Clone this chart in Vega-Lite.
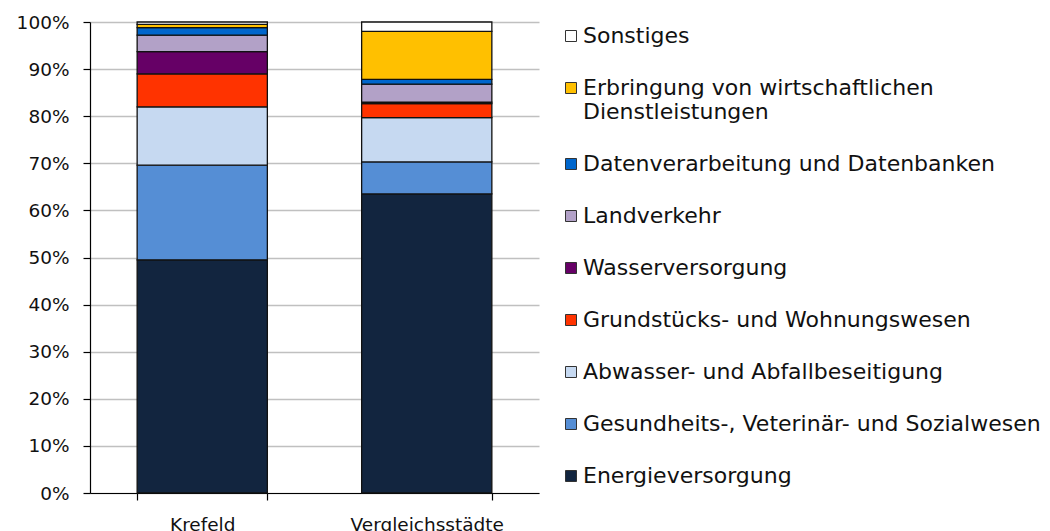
{
  "$schema": "https://vega.github.io/schema/vega-lite/v6.json",
  "autosize": {"type": "none"},
  "padding": {"left": 90, "top": 22, "right": 511, "bottom": 38},
  "width": 449,
  "height": 471,
  "background": "white",
  "data": {
    "values": [
      {"stadt": "Krefeld", "sektor": "Energieversorgung", "idx": 0, "anteil": 49.5},
      {"stadt": "Krefeld", "sektor": "Gesundheits-, Veterinär- und Sozialwesen", "idx": 1, "anteil": 20.1},
      {"stadt": "Krefeld", "sektor": "Abwasser- und Abfallbeseitigung", "idx": 2, "anteil": 12.4},
      {"stadt": "Krefeld", "sektor": "Grundstücks- und Wohnungswesen", "idx": 3, "anteil": 7.0},
      {"stadt": "Krefeld", "sektor": "Wasserversorgung", "idx": 4, "anteil": 4.7},
      {"stadt": "Krefeld", "sektor": "Landverkehr", "idx": 5, "anteil": 3.5},
      {"stadt": "Krefeld", "sektor": "Datenverarbeitung und Datenbanken", "idx": 6, "anteil": 1.6},
      {"stadt": "Krefeld", "sektor": "Erbringung von wirtschaftlichen Dienstleistungen", "idx": 7, "anteil": 0.7},
      {"stadt": "Krefeld", "sektor": "Sonstiges", "idx": 8, "anteil": 0.5},
      {"stadt": "Vergleichsstädte", "sektor": "Energieversorgung", "idx": 0, "anteil": 63.5},
      {"stadt": "Vergleichsstädte", "sektor": "Gesundheits-, Veterinär- und Sozialwesen", "idx": 1, "anteil": 6.8},
      {"stadt": "Vergleichsstädte", "sektor": "Abwasser- und Abfallbeseitigung", "idx": 2, "anteil": 9.4},
      {"stadt": "Vergleichsstädte", "sektor": "Grundstücks- und Wohnungswesen", "idx": 3, "anteil": 3.0},
      {"stadt": "Vergleichsstädte", "sektor": "Wasserversorgung", "idx": 4, "anteil": 0.3},
      {"stadt": "Vergleichsstädte", "sektor": "Landverkehr", "idx": 5, "anteil": 3.8},
      {"stadt": "Vergleichsstädte", "sektor": "Datenverarbeitung und Datenbanken", "idx": 6, "anteil": 1.0},
      {"stadt": "Vergleichsstädte", "sektor": "Erbringung von wirtschaftlichen Dienstleistungen", "idx": 7, "anteil": 10.2},
      {"stadt": "Vergleichsstädte", "sektor": "Sonstiges", "idx": 8, "anteil": 2.0}
    ]
  },
  "mark": {"type": "bar", "stroke": "#111", "strokeWidth": 1.3},
  "encoding": {
    "x": {
      "field": "stadt",
      "type": "nominal",
      "sort": null,
      "scale": {"paddingInner": 0.42, "paddingOuter": 0.21},
      "axis": {
        "title": null,
        "labelAngle": 0,
        "labelFont": "DejaVu Sans",
        "labelFontSize": 18.5,
        "labelColor": "#111",
        "labelPadding": 15,
        "tickBand": "extent",
        "tickSize": 7,
        "tickColor": "#000",
        "domainColor": "#000",
        "domainWidth": 1.2,
        "tickWidth": 1.2
      }
    },
    "y": {
      "field": "anteil",
      "type": "quantitative",
      "stack": "normalize",
      "scale": {"domain": [0, 1], "nice": false},
      "axis": {
        "title": null,
        "format": ".0%",
        "values": [0, 0.1, 0.2, 0.3, 0.4, 0.5, 0.6, 0.7, 0.8, 0.9, 1],
        "labelFont": "DejaVu Sans",
        "labelFontSize": 18.5,
        "labelColor": "#111",
        "labelPadding": 14,
        "tickSize": 7,
        "tickColor": "#000",
        "domainColor": "#000",
        "domainWidth": 1.2,
        "tickWidth": 1.2,
        "grid": true,
        "gridColor": "#c0c0c0",
        "gridWidth": 1.5
      }
    },
    "order": {"field": "idx", "type": "quantitative", "sort": "ascending"},
    "color": {
      "field": "sektor",
      "type": "nominal",
      "scale": {
        "domain": [
          "Sonstiges",
          "Erbringung von wirtschaftlichen Dienstleistungen",
          "Datenverarbeitung und Datenbanken",
          "Landverkehr",
          "Wasserversorgung",
          "Grundstücks- und Wohnungswesen",
          "Abwasser- und Abfallbeseitigung",
          "Gesundheits-, Veterinär- und Sozialwesen",
          "Energieversorgung"
        ],
        "range": ["#ffffff", "#ffc000", "#0066cc", "#b2a1c7", "#660066", "#ff3300", "#c6d9f1", "#558ed5", "#12253f"]
      },
      "legend": {
        "title": null,
        "orient": "right",
        "offset": 18,
        "padding": 3,
        "symbolType": "square",
        "symbolSize": 121,
        "symbolStrokeColor": "#333",
        "symbolStrokeWidth": 1,
        "labelFont": "DejaVu Sans",
        "labelFontSize": 22,
        "labelColor": "#111",
        "labelOffset": 1,
        "labelLimit": 600,
        "labelLineHeight": 24.5,
        "rowPadding": 30,
        "labelExpr": "datum.label == 'Erbringung von wirtschaftlichen Dienstleistungen' ? ['Erbringung von wirtschaftlichen', 'Dienstleistungen'] : datum.label"
      }
    }
  },
  "config": {"view": {"stroke": null}}
}
